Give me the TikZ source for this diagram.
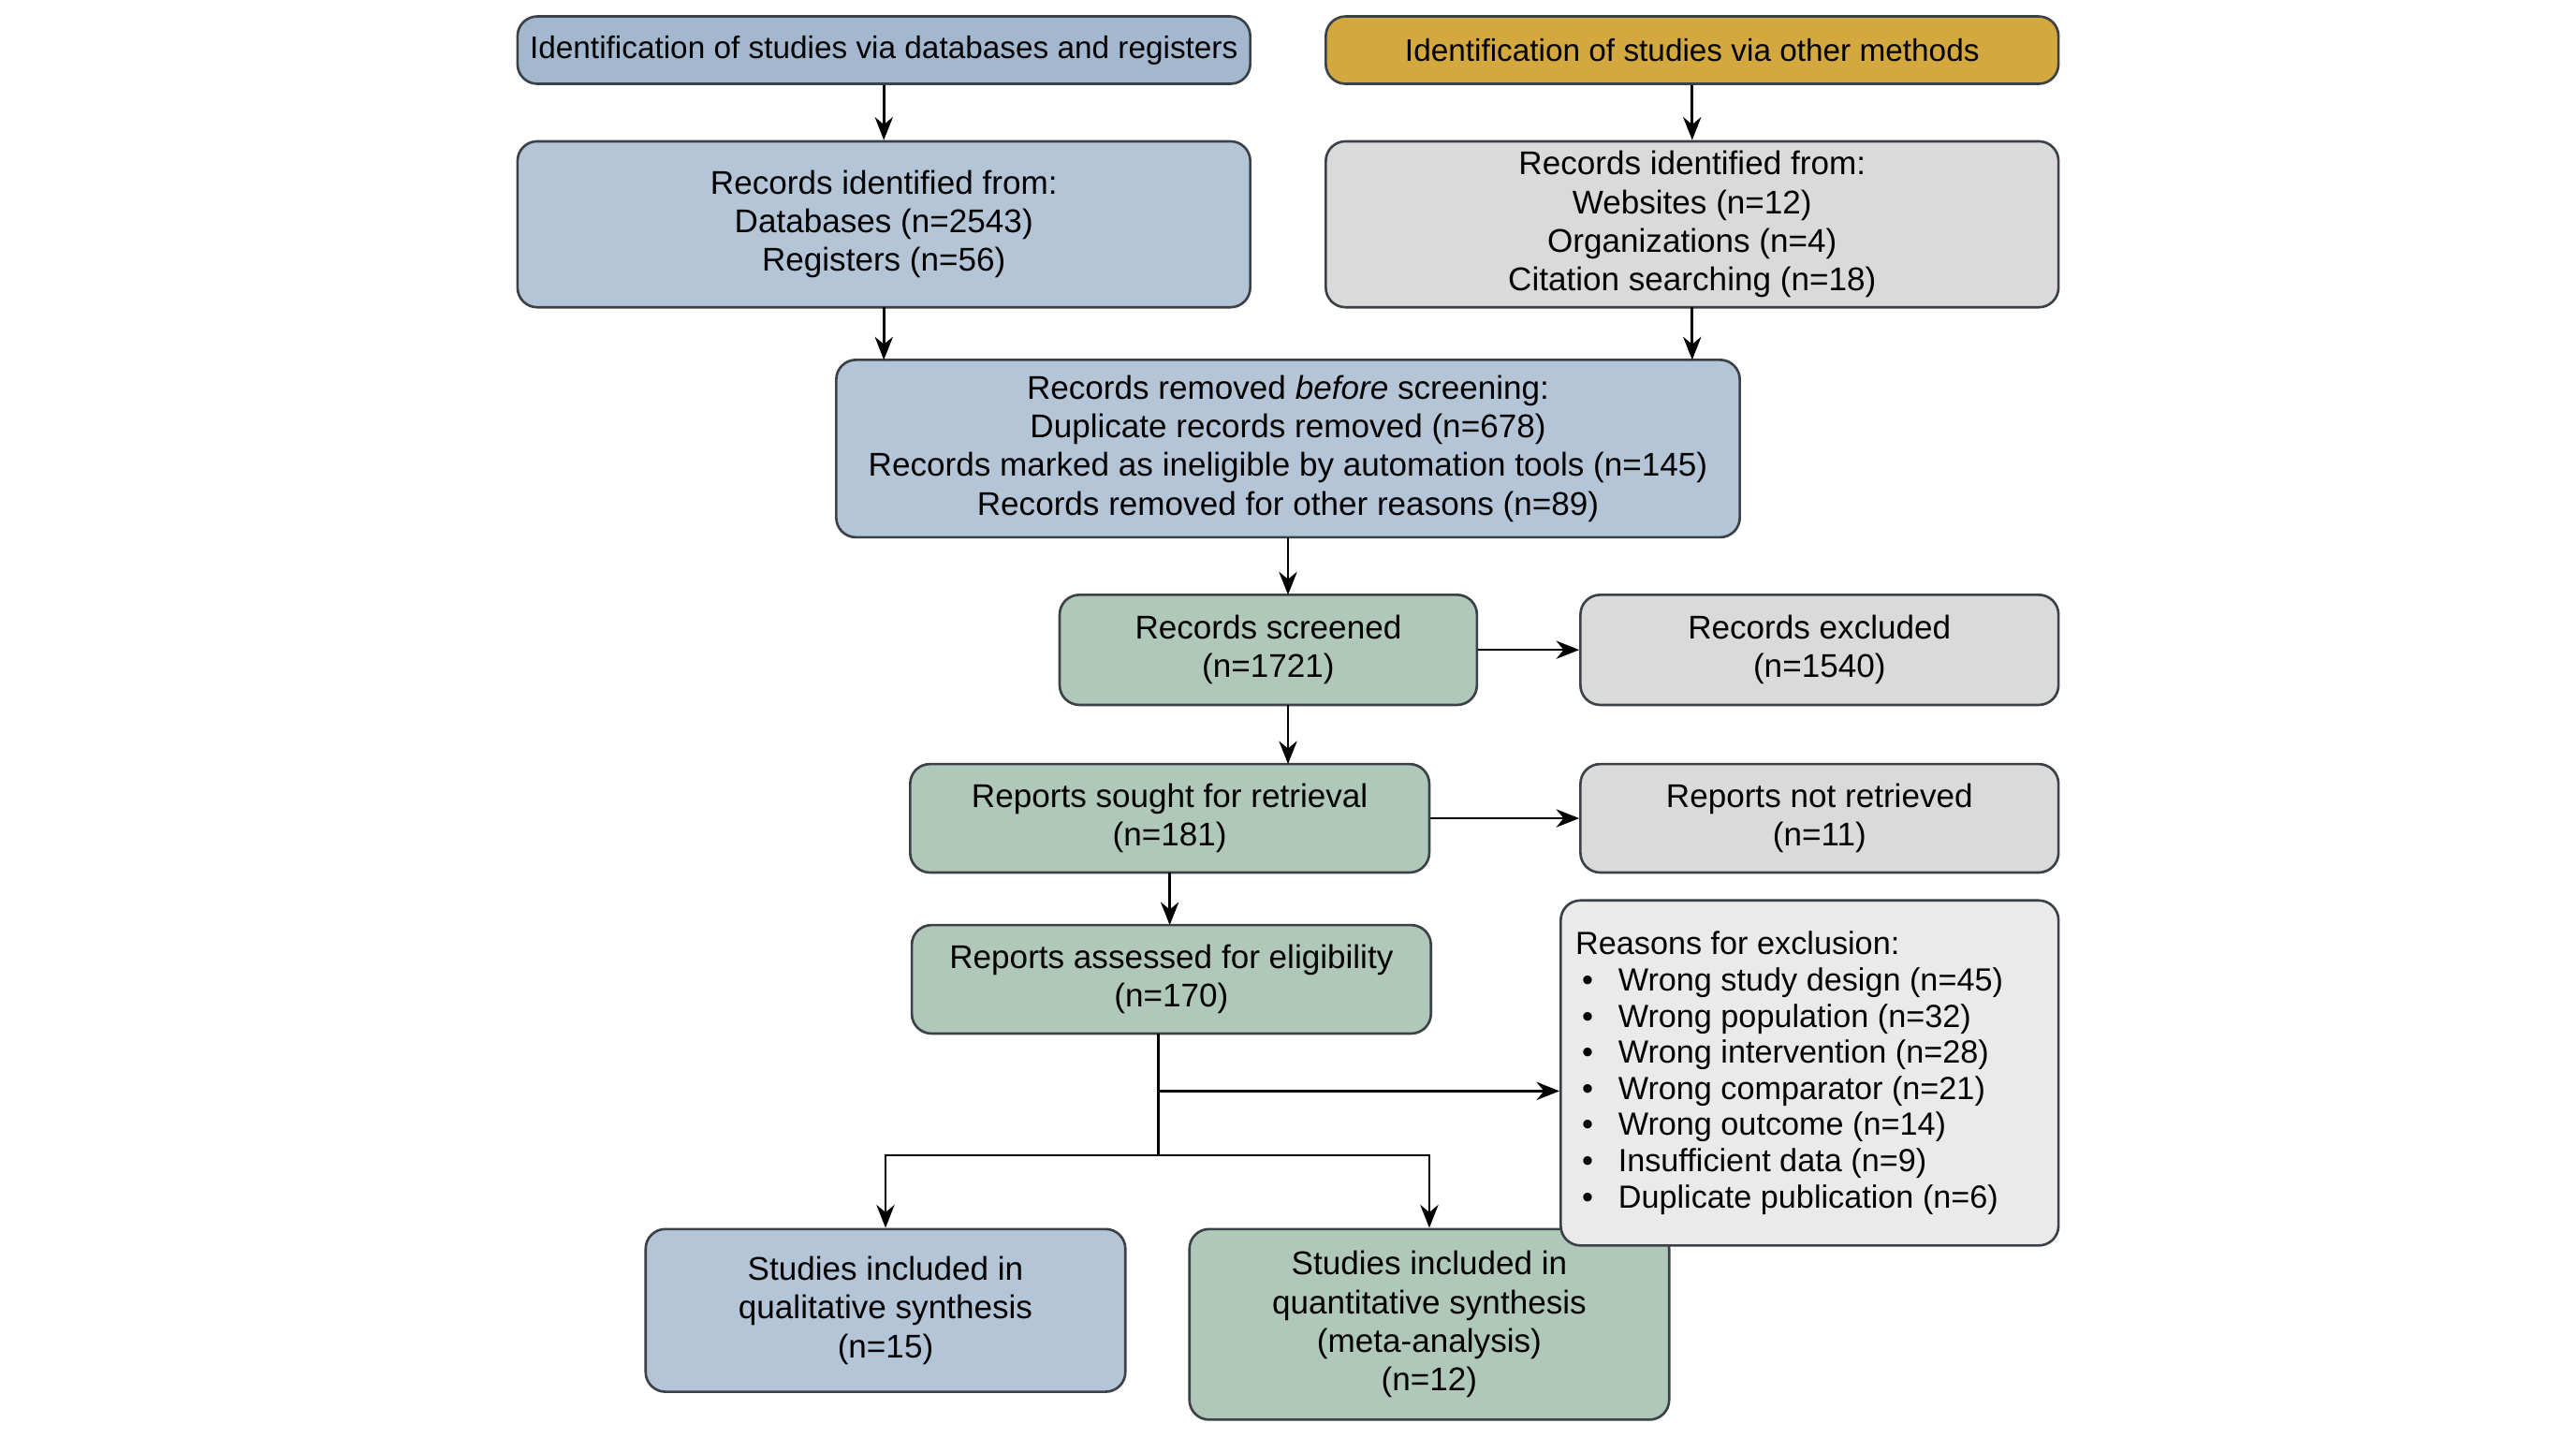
\documentclass[tikz,border=0pt]{standalone}
\usepackage{fontspec}
\setmainfont{Liberation Sans}
\usetikzlibrary{arrows.meta}
\definecolor{bl}{HTML}{B4C5D8}
\definecolor{blh}{HTML}{A3B7CE}
\definecolor{gd}{HTML}{D3A83E}
\definecolor{gr}{HTML}{DADADA}
\definecolor{lg}{HTML}{EAEAEA}
\definecolor{gn}{HTML}{AFC8B9}
\definecolor{ed}{HTML}{3C4148}
\begin{document}
\begin{tikzpicture}[x=1pt,y=-1pt,
 box/.style={draw=ed,line width=1.5pt,rounded corners=12pt,inner sep=0pt,align=center,
   font=\fontsize{20}{23.5}\selectfont,text=black},
 arr/.style={-{Stealth[length=14pt,width=11pt]},line width=1.5pt,draw=black}]
\useasboundingbox (0,0) rectangle (1568,875);
\fill[white] (0,0) rectangle (1568,875);
\newcommand{\bx}[7]{\node[box,fill=#6,minimum width=#3-#2,minimum height=#5-#4] (#1) at ({(#2+#3)/2},{(#4+#5)/2}) {#7};}
\bx{h1}{315}{761}{10}{51}{blh}{\fontsize{19}{22}\selectfont Identification of studies via databases and registers}
\bx{h2}{807}{1253}{10}{51}{gd}{\fontsize{19}{22}\selectfont Identification of studies via other methods}
\bx{r1}{315}{761}{86}{187}{bl}{Records identified from:\\Databases (n=2543)\\Registers (n=56)}
\bx{r2}{807}{1253}{86}{187}{gr}{Records identified from:\\Websites (n=12)\\Organizations (n=4)\\Citation searching (n=18)}
\bx{rm}{509}{1059}{219}{327}{bl}{Records removed \emph{before} screening:\\Duplicate records removed (n=678)\\Records marked as ineligible by automation tools (n=145)\\Records removed for other reasons (n=89)}
\bx{sc}{645}{899}{362}{429}{gn}{Records screened\\(n=1721)}
\bx{ex}{962}{1253}{362}{429}{gr}{Records excluded\\(n=1540)}
\bx{so}{554}{870}{465}{531}{gn}{Reports sought for retrieval\\(n=181)}
\bx{nr}{962}{1253}{465}{531}{gr}{Reports not retrieved\\(n=11)}
\bx{as}{555}{871}{563}{629}{gn}{Reports assessed for eligibility\\(n=170)}
\bx{ql}{393}{685}{748}{847}{bl}{Studies included in\\qualitative synthesis\\(n=15)}
\bx{qn}{724}{1016}{748}{864}{gn}{Studies included in\\quantitative synthesis\\(meta-analysis)\\(n=12)}
\newcommand{\bl}{\makebox[26pt][l]{\hspace{4pt}\textbullet}}
\bx{rs}{950}{1253}{548}{758}{lg}{\begin{minipage}{285pt}\fontsize{19.5}{22}\selectfont
Reasons for exclusion:\\
\bl Wrong study design (n=45)\\
\bl Wrong population (n=32)\\
\bl Wrong intervention (n=28)\\
\bl Wrong comparator (n=21)\\
\bl Wrong outcome (n=14)\\
\bl Insufficient data (n=9)\\
\bl Duplicate publication (n=6)\end{minipage}}
\draw[arr] (h1.south) -- (r1.north);
\draw[arr] (h2.south) -- (r2.north);
\draw[arr] (538,187) -- (538,219);
\draw[arr] (1030,187) -- (1030,219);
\draw[arr] (784,327) -- (784,362);
\draw[arr] (sc.east) -- (ex.west);
\draw[arr] (784,429) -- (784,465);
\draw[arr] (so.east) -- (nr.west);
\draw[arr] (712,531) -- (712,563);
\coordinate (a0) at (705,629);
\coordinate (a1) at (705,664);
\coordinate (a2) at (705,703);
\draw[line width=1.5pt] (a0) -- (a2);
\draw[arr] (a1) -- (rs.west |- a1);
\draw[arr] (a2) -| (ql.north);
\draw[arr] (a2) -| (qn.north);
\end{tikzpicture}
\end{document}
